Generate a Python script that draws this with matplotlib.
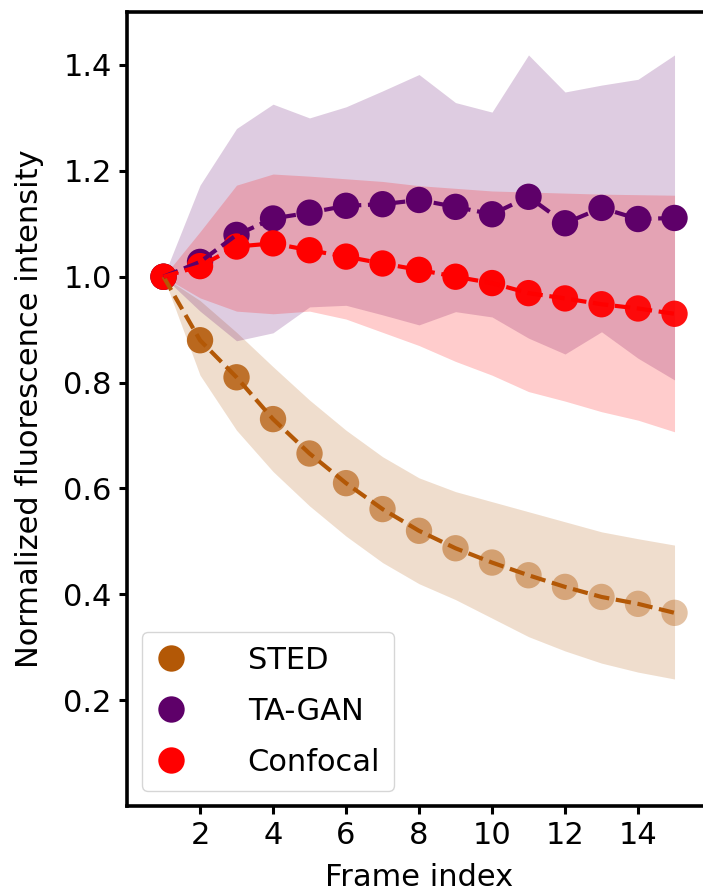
import numpy as np
import matplotlib
matplotlib.use("Agg")
import matplotlib.pyplot as plt
from matplotlib.lines import Line2D

# --- Data ---
frames = np.arange(1, 16)

sted_mean = [1.000, 0.880, 0.810, 0.731, 0.666, 0.610, 0.561, 0.520,
             0.487, 0.460, 0.436, 0.414, 0.395, 0.382, 0.365]
sted_low = [1.000, 0.814, 0.710, 0.632, 0.567, 0.510, 0.460, 0.420,
            0.390, 0.355, 0.320, 0.293, 0.270, 0.253, 0.240]
sted_high = [1.000, 0.955, 0.895, 0.830, 0.767, 0.710, 0.660, 0.620,
             0.594, 0.575, 0.556, 0.537, 0.518, 0.505, 0.493]

tagan_mean = [1.000, 1.028, 1.079, 1.110, 1.121, 1.134, 1.137, 1.145,
              1.132, 1.118, 1.151, 1.101, 1.130, 1.109, 1.111]
tagan_low = [1.000, 0.935, 0.879, 0.894, 0.943, 0.946, 0.928, 0.909,
             0.934, 0.924, 0.884, 0.854, 0.896, 0.846, 0.805]
tagan_high = [1.000, 1.173, 1.280, 1.326, 1.300, 1.321, 1.351, 1.382,
              1.329, 1.311, 1.419, 1.349, 1.362, 1.373, 1.419]

conf_mean = [1.000, 1.020, 1.057, 1.063, 1.050, 1.038, 1.025, 1.013,
             1.000, 0.988, 0.969, 0.959, 0.948, 0.940, 0.930]
conf_low = [1.000, 0.960, 0.935, 0.930, 0.935, 0.920, 0.895, 0.870,
            0.840, 0.814, 0.783, 0.765, 0.745, 0.729, 0.707]
conf_high = [1.000, 1.085, 1.173, 1.194, 1.190, 1.185, 1.180, 1.172,
             1.167, 1.162, 1.160, 1.158, 1.156, 1.155, 1.154]

labels = ["STED", "TA-GAN", "Confocal"]
colors = ["#b35806", "#5e0069", "#ff0000"]

series = [
    (sted_mean, sted_low, sted_high),
    (tagan_mean, tagan_low, tagan_high),
    (conf_mean, conf_low, conf_high),
]

FS = 22
plt.rcParams["font.family"] = "DejaVu Sans"
plt.rcParams["font.size"] = FS

fig = plt.figure(figsize=(7.03, 8.94), dpi=100)
ax = fig.add_axes([0.1807, 0.0984, 0.8307, 0.8881])

# shaded bands first
for (mean, low, high), c in zip(series, colors):
    ax.fill_between(frames, low, high, color=c, alpha=0.2, linewidth=0, zorder=1)

# markers fade with intensity (alpha = normalized value, capped at 1)
for (mean, low, high), c in zip(series, colors):
    m = np.array(mean)
    rgba = np.tile(matplotlib.colors.to_rgba(c), (len(m), 1))
    rgba[:, 3] = np.clip(m, 0, 1)
    ax.scatter(frames, m, s=360, c=rgba, edgecolors="none", zorder=3)

# dashed lines on top
for (mean, low, high), c in zip(series, colors):
    ax.plot(frames, mean, linestyle="--", color=c, linewidth=3.0, zorder=4)

ax.set_xlim(0, 16)
ax.set_ylim(0, 1.5)
ax.set_xticks([2, 4, 6, 8, 10, 12, 14])
ax.set_yticks([0.2, 0.4, 0.6, 0.8, 1.0, 1.2, 1.4])
ax.set_yticklabels(["0.2", "0.4", "0.6", "0.8", "1.0", "1.2", "1.4"])
ax.set_xlabel("Frame index", fontsize=FS, labelpad=9)
ax.set_ylabel("Normalized fluorescence intensity", fontsize=FS, labelpad=14)

for sp in ax.spines.values():
    sp.set_linewidth(2.6)
ax.spines["right"].set_visible(False)
ax.tick_params(length=6, width=2.2, pad=5, labelsize=FS)

handles = [Line2D([], [], linestyle="none", marker="o", markersize=19,
                  markerfacecolor=c, markeredgecolor="none") for c in colors]
ax.legend(handles, labels, loc="lower left", fontsize=FS,
          handlelength=1.0, handletextpad=2.0, borderpad=0.45,
          labelspacing=0.72, framealpha=0.8)

fig.savefig("out.png", dpi=100)
